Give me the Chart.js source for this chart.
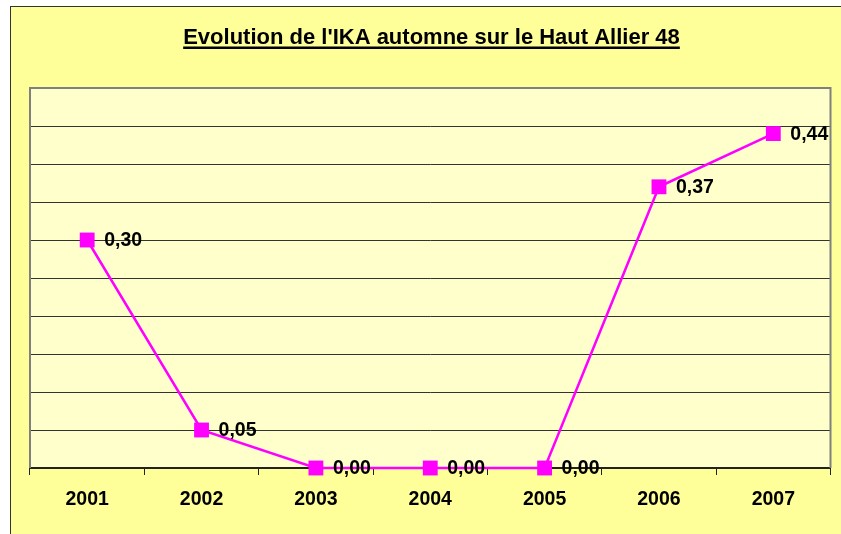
<!DOCTYPE html>
<html>
<head>
<meta charset="utf-8">
<script src="https://cdn.jsdelivr.net/npm/chart.js@4"></script>
<style>
    body { margin: 0; background: #ffffff; }
    #wrap {
        position: absolute; left: 10px; top: 6px;
        width: 830px; height: 527px;
        background: #ffff99;
        border-top: 1px solid #333333;
        border-left: 1px solid #333333;
    }
</style>
</head>
<body>
<div id="wrap"><canvas id="ikaChart" width="830" height="527"></canvas></div>
<script>
const CHART_TITLE = "Evolution de l'IKA automne sur le Haut Allier 48";
const years = ['2001', '2002', '2003', '2004', '2005', '2006', '2007'];
const ikaValues = [0.30, 0.05, 0.00, 0.00, 0.00, 0.37, 0.44];
const yMin = 0;
const yMax = 0.5;
const yStep = 0.05;

const FONT = '"Liberation Sans", Arial, sans-serif';

// --- Custom drawing: title, plot background, border, value labels ---
const decorPlugin = {
    id: 'decor',
    beforeDraw(chart) {
        const { ctx, chartArea: a } = chart;
        ctx.save();
        ctx.fillStyle = '#ffffcc';
        ctx.fillRect(a.left, a.top, a.right - a.left, a.bottom - a.top);

        // title, underlined
        ctx.font = 'bold 22px ' + FONT;
        ctx.fillStyle = '#000';
        ctx.textAlign = 'center';
        ctx.textBaseline = 'alphabetic';
        const tx = 420.5, ty = 36.5;
        ctx.fillText(CHART_TITLE, tx, ty);
        const w = ctx.measureText(CHART_TITLE).width;
        ctx.fillRect(tx - w / 2, ty + 3, w, 2.5);
        ctx.restore();
    },
    afterDatasetsDraw(chart) {
        const { ctx, chartArea: a } = chart;
        ctx.save();
        // grey frame left/top/right
        ctx.strokeStyle = '#808080';
        ctx.lineWidth = 2;
        ctx.beginPath();
        ctx.moveTo(a.left, a.bottom);
        ctx.lineTo(a.left, a.top);
        ctx.lineTo(a.right, a.top);
        ctx.lineTo(a.right, a.bottom);
        ctx.stroke();

        // value labels
        const meta = chart.getDatasetMeta(0);
        ctx.font = 'bold 19.5px ' + FONT;
        ctx.fillStyle = '#000';
        ctx.textAlign = 'left';
        ctx.textBaseline = 'middle';
        meta.data.forEach((pt, i) => {
            const txt = ikaValues[i].toFixed(2).replace('.', ',');
            ctx.fillText(txt, pt.x + 17, pt.y + 1);
        });
        ctx.restore();
    }
};

const ctx = document.getElementById('ikaChart').getContext('2d');
const ikaChart = new Chart(ctx, {
    type: 'line',
    data: {
        labels: years,
        datasets: [{
            label: 'IKA',
            data: ikaValues,
            borderColor: '#ff00ff',
            backgroundColor: '#ff00ff',
            borderWidth: 2.5,
            tension: 0,
            pointStyle: 'rect',
            pointRadius: 10.5,
            pointBorderWidth: 0,
            pointHoverRadius: 10.5,
            clip: false
        }]
    },
    options: {
        responsive: false,
        animation: false,
        events: [],
        layout: { padding: { left: 19, right: 9, top: 81, bottom: 0 } },
        plugins: {
            legend: { display: false },
            title: { display: false },
            tooltip: { enabled: false }
        },
        scales: {
            x: {
                offset: true,
                afterFit: (s) => { s.height = 66; },
                border: { display: true, color: '#222', width: 2 },
                grid: {
                    offset: true,
                    drawOnChartArea: false,
                    drawTicks: true,
                    tickLength: 7,
                    tickColor: '#222',
                    tickWidth: 1
                },
                ticks: {
                    color: '#000',
                    padding: 13,
                    font: { family: FONT, size: 19.5, weight: 'bold' }
                }
            },
            y: {
                min: yMin,
                max: yMax,
                afterFit: (s) => { s.width = 0; },
                border: { display: false },
                ticks: { display: false, stepSize: yStep },
                grid: {
                    drawTicks: false,
                    lineWidth: 1,
                    color: (c) => (c.tick && (c.tick.value > yMax - 0.001 || c.tick.value < 0.001)) ? 'transparent' : '#333333'
                }
            }
        }
    },
    plugins: [decorPlugin]
});
</script>
</body>
</html>
